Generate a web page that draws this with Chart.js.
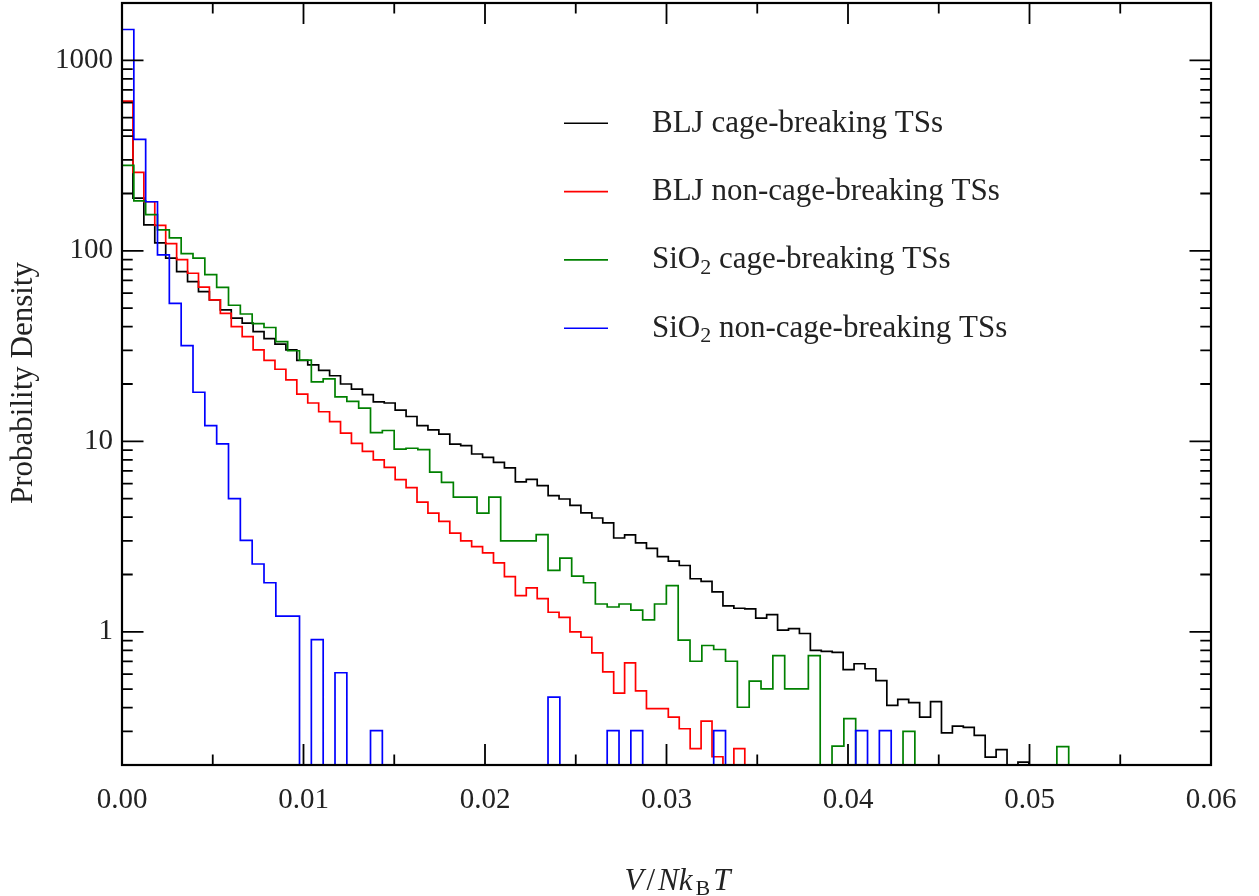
<!DOCTYPE html>
<html>
<head>
<meta charset="utf-8">
<title>Probability density of V/NkBT</title>
<script src="https://cdn.jsdelivr.net/npm/chart.js@4.4.1/dist/chart.umd.min.js"></script>
<style>
  html, body { margin: 0; padding: 0; background: #fff; }
  #wrap { width: 1259px; height: 896px; }
</style>
</head>
<body>
<div id="wrap"><canvas id="histChart" width="1259" height="896"></canvas></div>
<script>
// ---- histogram bins (probability density per bin, 0 = empty bin) ----
var BLJ_BIN_WIDTH = 0.000602;
var SIO2_BIN_WIDTH = 0.000652;

var bljCageBreaking = [
    430, 189, 137, 110, 91.5, 77.8, 68.9, 61.1, 55.3, 49.0,
    44.3, 41.7, 37.7, 34.6, 32.4, 30.2, 26.6, 25.2, 23.6, 22.1,
    20.0, 18.8, 17.6, 16.1, 15.9, 14.6, 13.5, 12.1, 11.5, 10.9,
    9.68, 9.5, 8.58, 8.23, 7.75, 7.25, 6.12, 6.31, 5.85, 5.19,
    4.98, 4.61, 4.21, 3.96, 3.73, 3.11, 3.23, 2.93, 2.74, 2.48,
    2.35, 2.23, 1.90, 1.84, 1.62, 1.37, 1.33, 1.32, 1.18, 1.23,
    1.02, 1.04, 0.98, 0.80, 0.79, 0.78, 0.634, 0.68, 0.64, 0.555,
    0.411, 0.442, 0.425, 0.357, 0.43, 0.295, 0.32, 0.315, 0.286, 0.22,
    0.241, 0, 0.207
];

var bljNonCageBreaking = [
    611, 258, 181, 136, 109, 90.0, 76.3, 64.5, 55.3, 47.0,
    40.0, 35.5, 30.2, 26.6, 23.9, 21.0, 17.7, 15.9, 14.3, 12.7,
    11.05, 9.75, 8.85, 8.0, 7.3, 6.3, 5.71, 4.8, 4.2, 3.8,
    3.3, 3.0, 2.8, 2.6, 2.3, 1.95, 1.55, 1.7, 1.495, 1.267,
    1.19, 1.0, 0.937, 0.776, 0.617, 0.477, 0.688, 0.49, 0.395, 0.395,
    0.357, 0.31, 0.244, 0.34, 0.221, 0, 0.244
];

var sio2CageBreaking = [
    281, 183, 155, 129, 117, 96.8, 91.5, 75.0, 64.3, 51.8,
    46.6, 41.5, 39.6, 33.4, 29.9, 26.7, 20.5, 21.3, 17.1, 16.2,
    14.95, 11.1, 11.4, 9.11, 9.2, 9.05, 6.9, 6.09, 5.1, 5.1,
    4.2, 5.1, 3.0, 3.0, 3.0, 3.24, 2.10, 2.44, 1.96, 1.81,
    1.40, 1.35, 1.40, 1.30, 1.155, 1.40, 1.75, 0.904, 0.701, 0.848,
    0.808, 0.701, 0.402, 0.551, 0.502, 0.751, 0.502, 0.502, 0.751, 0,
    0.251, 0.35, 0, 0, 0, 0, 0.30, 0, 0, 0,
    0, 0, 0, 0, 0, 0, 0, 0, 0, 0.25
];

var sio2NonCageBreaking = [
    1452, 385, 181, 95.3, 53.0, 31.8, 18.1, 12.1, 9.7, 5.0,
    3.02, 2.27, 1.81, 1.21, 1.21, 0, 0.91, 0, 0.61, 0,
    0, 0.303, 0, 0, 0, 0, 0, 0, 0, 0,
    0, 0, 0, 0, 0, 0, 0.454, 0, 0, 0,
    0, 0.303, 0, 0.303, 0, 0, 0, 0, 0, 0,
    0.303, 0, 0, 0, 0, 0, 0, 0, 0, 0,
    0, 0, 0.303, 0, 0.303
];

var seriesLabels = [
    'BLJ cage-breaking TSs',
    'BLJ non-cage-breaking TSs',
    'SiO\u2082 cage-breaking TSs',
    'SiO\u2082 non-cage-breaking TSs'
];
var seriesColors = ['#000000', '#ff0000', '#008000', '#0000ff'];

// ---- axes ----
var X_MIN = 0, X_MAX = 0.06;
var Y_MIN = 0.2, Y_MAX = 2000;
var xTickValues = [0, 0.01, 0.02, 0.03, 0.04, 0.05, 0.06];
var xMinorTicks = [0.005, 0.015, 0.025, 0.035, 0.045, 0.055];
var yTickValues = [1, 10, 100, 1000];
var yMinorTicks = [0.3, 0.4, 0.5, 0.6, 0.7, 0.8, 0.9,
                   2, 3, 4, 5, 6, 7, 8, 9,
                   20, 30, 40, 50, 60, 70, 80, 90,
                   200, 300, 400, 500, 600, 700, 800, 900];

var SERIF = '"Liberation Serif", "Times New Roman", serif';
var TEXT_COLOR = '#222';

// empty bins sit below the axis so the outline drops to the frame
var EMPTY_LEVEL = Y_MIN / 4;

// one point per left bin edge plus the closing right edge
function stepPoints(values, width) {
    var pts = [];
    for (var i = 0; i < values.length; i++) {
        pts.push({ x: i * width, y: values[i] > 0 ? values[i] : EMPTY_LEVEL });
    }
    pts.push({ x: values.length * width, y: EMPTY_LEVEL });
    return pts;
}

function histDataset(idx, values, width) {
    return {
        label: seriesLabels[idx],
        data: stepPoints(values, width),
        borderColor: seriesColors[idx],
        backgroundColor: seriesColors[idx],
        borderWidth: 1.7,
        stepped: 'before',
        pointRadius: 0,
        fill: false,
        order: 3 - idx
    };
}

// draws text, turning "\u2082" into a lowered small "2"
function drawSubscripted(ctx, text, x, y, size) {
    var parts = text.split('\u2082');
    var cx = x;
    for (var i = 0; i < parts.length; i++) {
        ctx.font = size + 'px ' + SERIF;
        ctx.fillText(parts[i], cx, y);
        cx += ctx.measureText(parts[i]).width;
        if (i < parts.length - 1) {
            ctx.font = Math.round(size * 0.7) + 'px ' + SERIF;
            ctx.fillText('2', cx, y + size * 0.17);
            cx += ctx.measureText('2').width;
        }
    }
}

var frameAndLabels = {
    id: 'frameAndLabels',
    afterDraw: function(chart) {
        var ctx = chart.ctx;
        var a = chart.chartArea;
        var xs = chart.scales.x, ys = chart.scales.y;
        ctx.save();

        // inward tick marks on all four sides
        ctx.strokeStyle = '#000';
        ctx.lineWidth = 1.8;
        ctx.beginPath();
        function xTick(v, len) {
            var px = xs.getPixelForValue(v);
            ctx.moveTo(px, a.bottom); ctx.lineTo(px, a.bottom - len);
            ctx.moveTo(px, a.top); ctx.lineTo(px, a.top + len);
        }
        function yTick(v, len) {
            var py = ys.getPixelForValue(v);
            ctx.moveTo(a.left, py); ctx.lineTo(a.left + len, py);
            ctx.moveTo(a.right, py); ctx.lineTo(a.right - len, py);
        }
        xTickValues.forEach(function(v) { xTick(v, 21); });
        xMinorTicks.forEach(function(v) { xTick(v, 10.5); });
        yTickValues.forEach(function(v) { yTick(v, 21.5); });
        yMinorTicks.forEach(function(v) { yTick(v, 10.7); });
        ctx.stroke();

        // frame
        ctx.lineWidth = 2.2;
        ctx.strokeRect(a.left, a.top, a.right - a.left, a.bottom - a.top);

        // legend inside the plot
        var rowY = 123.3, rowGap = 68.3;
        chart.data.datasets.forEach(function(ds, i) {
            var y = rowY + i * rowGap;
            ctx.strokeStyle = ds.borderColor;
            ctx.lineWidth = 1.6;
            ctx.beginPath();
            ctx.moveTo(564, y); ctx.lineTo(608, y);
            ctx.stroke();
            ctx.fillStyle = TEXT_COLOR;
            ctx.textAlign = 'left';
            ctx.textBaseline = 'alphabetic';
            drawSubscripted(ctx, ds.label, 652, y + 8.5, 31);
        });

        // y axis title
        ctx.fillStyle = TEXT_COLOR;
        ctx.save();
        ctx.translate(24, 383);
        ctx.rotate(-Math.PI / 2);
        ctx.textAlign = 'center';
        ctx.textBaseline = 'middle';
        ctx.font = '31px ' + SERIF;
        ctx.fillText('Probability Density', 0, 0);
        ctx.restore();

        // x axis title: V/Nk_B T
        var pieces = [
            { t: 'V', f: 'italic 31px ' + SERIF, dy: 0 },
            { t: '/', f: '31px ' + SERIF, dy: 0 },
            { t: 'Nk', f: 'italic 31px ' + SERIF, dy: 0 },
            { t: 'B', f: '22px ' + SERIF, dy: 5 },
            { t: 'T', f: 'italic 31px ' + SERIF, dy: 0 }
        ];
        var total = 0;
        pieces.forEach(function(p) { ctx.font = p.f; p.w = ctx.measureText(p.t).width; total += p.w; });
        var gap = 3;
        total += gap * (pieces.length - 1);
        var cx = 677.5 - total / 2;
        ctx.textAlign = 'left';
        ctx.textBaseline = 'alphabetic';
        pieces.forEach(function(p) {
            ctx.font = p.f;
            ctx.fillText(p.t, cx, 890 + p.dy);
            cx += p.w + gap;
        });

        ctx.restore();
    }
};

new Chart(document.getElementById('histChart').getContext('2d'), {
    type: 'line',
    data: {
        datasets: [
            histDataset(0, bljCageBreaking, BLJ_BIN_WIDTH),
            histDataset(1, bljNonCageBreaking, BLJ_BIN_WIDTH),
            histDataset(2, sio2CageBreaking, SIO2_BIN_WIDTH),
            histDataset(3, sio2NonCageBreaking, SIO2_BIN_WIDTH)
        ]
    },
    options: {
        responsive: false,
        devicePixelRatio: 1,
        animation: false,
        layout: { padding: { left: 0, top: 3, right: 48, bottom: 0 } },
        plugins: { legend: { display: false }, tooltip: { enabled: false } },
        scales: {
            x: {
                type: 'linear',
                min: X_MIN, max: X_MAX,
                grid: { display: false, drawTicks: false },
                border: { display: false },
                afterFit: function(scale) {
                    scale.height = 131;
                    scale.paddingLeft = 0; scale.paddingRight = 0;
                },
                afterBuildTicks: function(scale) {
                    scale.ticks = xTickValues.map(function(v) { return { value: v }; });
                },
                ticks: {
                    padding: 18,
                    maxRotation: 0,
                    color: TEXT_COLOR,
                    font: { family: SERIF, size: 29 },
                    callback: function(v) { return Number(v).toFixed(2); }
                }
            },
            y: {
                type: 'logarithmic',
                min: Y_MIN, max: Y_MAX,
                grid: { display: false, drawTicks: false },
                border: { display: false },
                afterFit: function(scale) {
                    scale.width = 122;
                    scale.paddingTop = 0; scale.paddingBottom = 0;
                },
                afterBuildTicks: function(scale) {
                    scale.ticks = yTickValues.map(function(v) { return { value: v }; });
                },
                ticks: {
                    padding: 9,
                    color: TEXT_COLOR,
                    font: { family: SERIF, size: 29 },
                    callback: function(v) { return String(v); }
                }
            }
        }
    },
    plugins: [frameAndLabels]
});
</script>
</body>
</html>
